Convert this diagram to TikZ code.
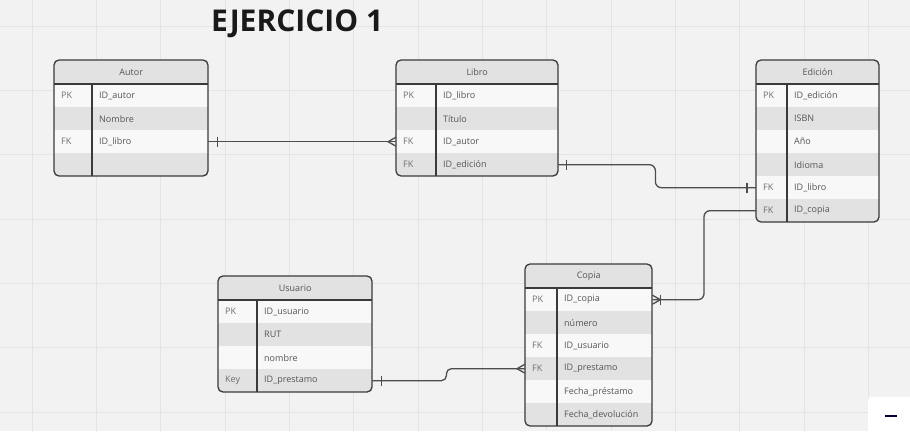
\documentclass[tikz,border=0pt]{standalone}
\usepackage{fontspec}
\setmainfont{Open Sans}
\usetikzlibrary{positioning}
\definecolor{canvas}{HTML}{F2F2F2}
\definecolor{gridcol}{HTML}{E4E4E4}
\definecolor{rowlight}{HTML}{F8F8F8}
\definecolor{rowdark}{HTML}{E2E2E2}
\definecolor{framecol}{HTML}{3A3A3A}
\definecolor{textcol}{HTML}{555555}
\definecolor{keycol}{HTML}{6E6E6E}
\definecolor{relcol}{HTML}{4D4D4D}
\definecolor{navy}{HTML}{050038}
\tikzset{gridline/.style={draw=gridcol, line width=0.8pt},
	headcell/.style={fill=rowdark, minimum height=24, inner sep=0, text=textcol,
		font=\fontsize{9}{11}\selectfont},
	rowcell/.style={minimum height=23, inner sep=0},
	keytext/.style={anchor=west, inner sep=0, text=keycol, font=\fontsize{9}{11}\selectfont},
	fieldtext/.style={anchor=west, inner sep=0, text=textcol, font=\fontsize{9}{11}\selectfont},
	tableline/.style={draw=framecol, line width=1.3pt},
	rel/.style={draw=relcol, line width=1.3pt}}

% #1 name, #2 x, #3 y, #4 width, #5 key column, #6 rows, #7 title, #8 fields
\newcommand{\ertable}[8]{%
  \pgfmathsetmacro{\erh}{24+23*#6}
  \begin{scope}
    \clip[rounded corners=5] (#2,#3) rectangle ++(#4,\erh);
    \node[headcell, minimum width=#4, anchor=north west] (#1) at (#2,#3) {#7};
    \foreach \k/\f [count=\i] in {#8} {
      \ifodd\i\relax \def\rowcol{rowlight}\else \def\rowcol{rowdark}\fi
      \node[rowcell, fill=\rowcol, minimum width=#4, anchor=north west]
        (#1-\i) at (#2,{#3+24+23*(\i-1)}) {};
      \node[keytext] at ([xshift=7]#1-\i.west) {\k};
      \node[fieldtext] at ([xshift=#5+7]#1-\i.west) {\f};
    }
  \end{scope}
  \draw[tableline, rounded corners=5] (#2,#3) rectangle ++(#4,\erh);
  \draw[tableline] (#2,{#3+24}) -- ++(#4,0);
  \draw[tableline] ({#2+#5},{#3+24}) -- ++(0,{\erh-24});
}
% one / many marks
\newcommand{\erbar}[2]{\draw[rel] ([xshift=#2,yshift=5]#1) -- ([xshift=#2,yshift=-5]#1);}
\newcommand{\ercrow}[2]{\draw[rel] ([yshift=4.5]#1) -- ([xshift=#2]#1) -- ([yshift=-4.5]#1);}

\begin{document}
\begin{tikzpicture}[x=1pt,y=-1pt]
  \useasboundingbox (0,0) rectangle (910,431);
  \fill[canvas] (0,0) rectangle (910,431);
  \foreach \gx in {0,...,13}
    \draw[gridline] ({32+64.35*\gx},0) -- ++(0,431);
  \foreach \gy in {0,...,6}
    \draw[gridline] (0,{26+64.35*\gy}) -- ++(910,0);

  \node[anchor=base west, inner sep=0, text=black!90,
    font=\fontsize{30}{34}\selectfont\bfseries] (title) at (211,31) {EJERCICIO 1};

  \ertable{autor}{54}{60}{154}{38}{4}{Autor}
    {PK/ID\_autor, /Nombre, FK/ID\_libro, /}
  \ertable{libro}{396}{60}{162}{40}{4}{Libro}
    {PK/ID\_libro, /Título, FK/ID\_autor, FK/ID\_edición}
  \ertable{edicion}{756}{60}{123}{31}{6}{Edición}
    {PK/ID\_edición, /ISBN, /Año, /Idioma, FK/ID\_libro, FK/ID\_copia}
  \ertable{usuario}{218}{276}{154}{39}{4}{Usuario}
    {PK/ID\_usuario, /RUT, /nombre, Key/ID\_prestamo}
  \ertable{copia}{525}{264}{127}{32}{6}{Copia}
    {PK/ID\_copia, /número, FK/ID\_usuario, FK/ID\_prestamo, /Fecha\_préstamo, /Fecha\_devolución}

  % relations
  \draw[rel] (autor-3.east) -- (libro-3.west);
  \erbar{autor-3.east}{9}
  \ercrow{libro-3.west}{-8}

  \draw[rel, rounded corners=6] (libro-4.east) -- ++(97,0) |- (edicion-5.west);
  \erbar{libro-4.east}{8}
  \erbar{edicion-5.west}{-9}

  \draw[rel, rounded corners=6] (edicion-6.west) -- ++(-52,0) |- (copia-1.east);
  \ercrow{copia-1.east}{8}
  \erbar{copia-1.east}{8}

  \draw[rel, rounded corners=5] (usuario-4.east) -- ++(74,0) |- (copia-4.west);
  \erbar{usuario-4.east}{9}
  \ercrow{copia-4.west}{-8}

  % zoom panel
  \fill[white, rounded corners=3] (868,397) rectangle (915,436);
  \draw[navy, line width=2pt] (885,416) -- (897,416);
\end{tikzpicture}
\end{document}
